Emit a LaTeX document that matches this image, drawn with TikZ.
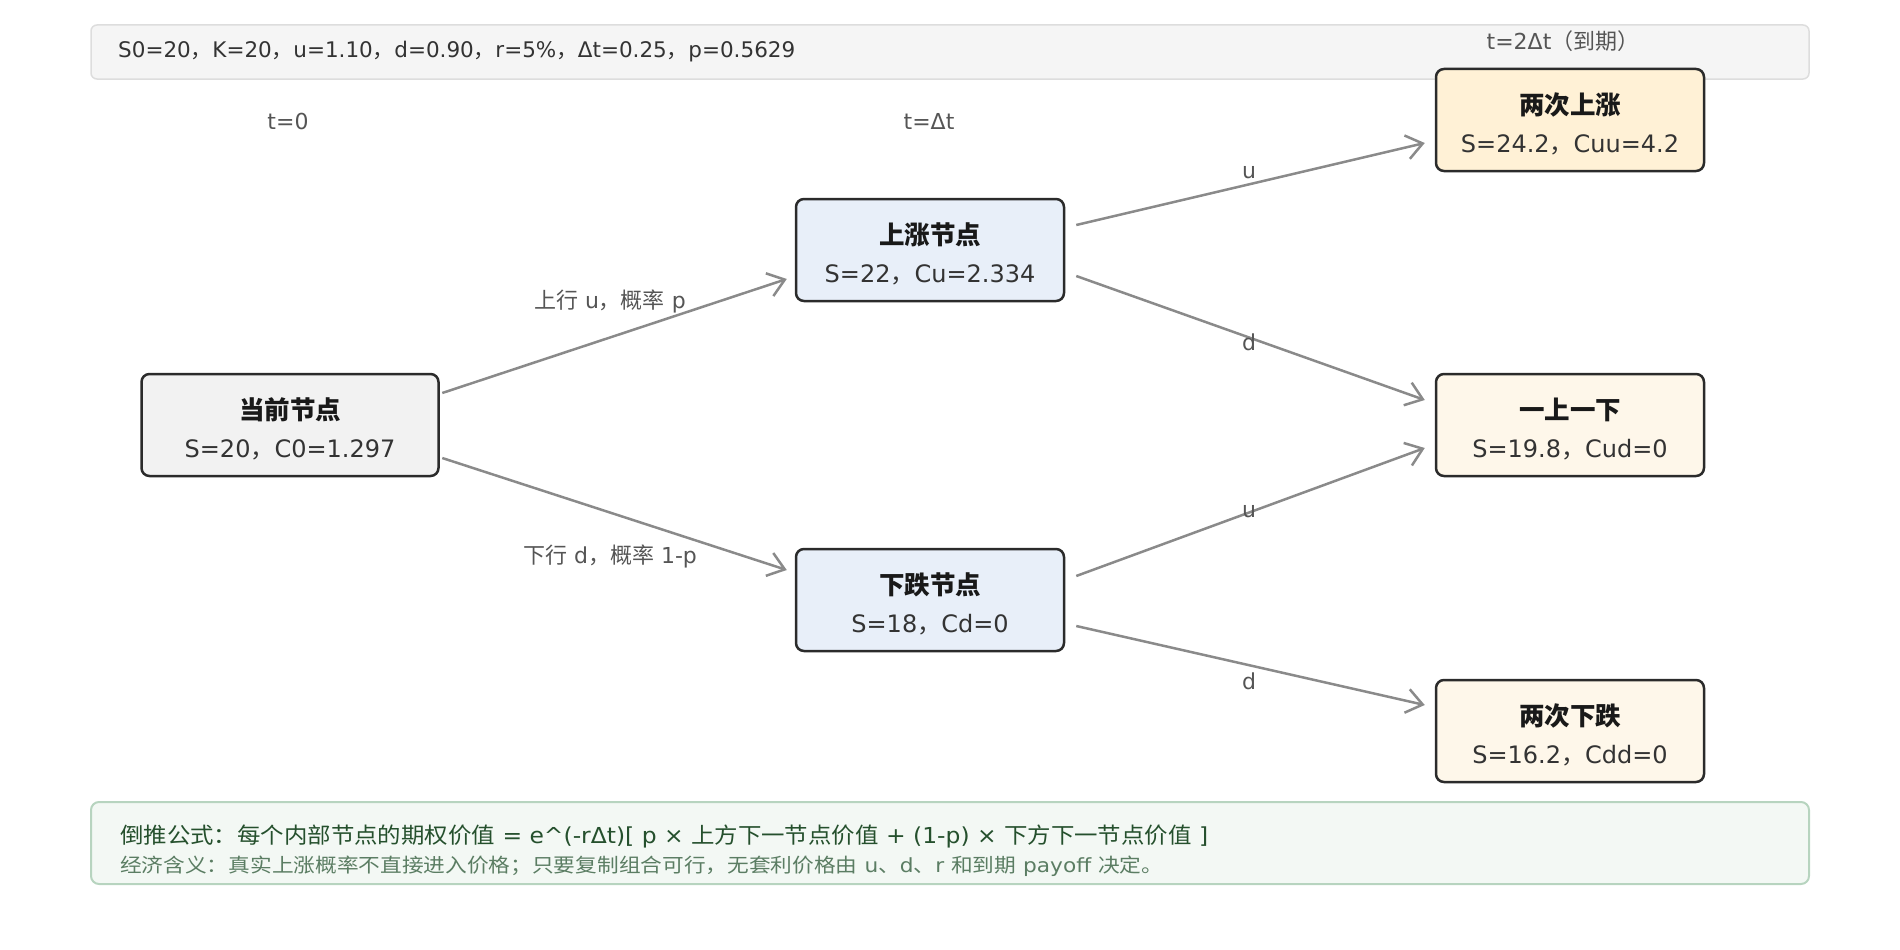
\documentclass[tikz,border=0pt]{standalone}
\usepackage{fontspec}
\usepackage{graphicx}
\setmainfont{Noto Sans CJK SC}
\newfontfamily\lat{DejaVu Sans}
\newcommand{\La}[1]{{\lat #1}}
\usetikzlibrary{arrows.meta}
\definecolor{nodeborder}{HTML}{2B2B2B}
\definecolor{rootfill}{HTML}{F2F2F2}
\definecolor{midfill}{HTML}{E8EFF9}
\definecolor{uufill}{HTML}{FFF1D6}
\definecolor{endfill}{HTML}{FEF7EA}
\definecolor{arrgray}{HTML}{8A8A8A}
\definecolor{txtdark}{HTML}{333333}
\definecolor{lblgray}{HTML}{555555}
\definecolor{hdrfill}{HTML}{F5F5F5}
\definecolor{hdrdraw}{HTML}{DDDDDD}
\definecolor{ftfill}{HTML}{F3F8F4}
\definecolor{ftdraw}{HTML}{B7D4BF}
\definecolor{ftdark}{HTML}{25502D}
\definecolor{ftlight}{HTML}{5B7D63}
\tikzset{
  treenode/.style={draw=nodeborder, line width=2.5pt, rounded corners=8pt,
    minimum width=268pt, minimum height=102pt, align=center, inner sep=0pt,
    text=txtdark, font=\fontsize{24}{38}\selectfont},
  arr/.style={draw=arrgray, line width=2.5pt,
    -{Straight Barb[length=16pt,width=24pt,line width=2.5pt]}},
  edgelbl/.style={text=lblgray, font=\fontsize{22}{26}\selectfont, inner sep=0pt},
  timelbl/.style={text=lblgray, font=\fontsize{22}{26}\selectfont, inner sep=0pt},
}
\newcommand{\ttl}[1]{{\fontsize{25.5}{38}\selectfont\bfseries\color{black!90}\rule{0pt}{30pt}#1}}
\begin{document}
\begin{tikzpicture}[x=1pt,y=-1pt]
\useasboundingbox (0,0) rectangle (1900,950);
% header
\path[fill=hdrfill, draw=hdrdraw, line width=1.5pt, rounded corners=6pt] (91,25) rectangle (1809,79);
\node[anchor=west, inner sep=0pt, text=txtdark, font=\fontsize{21.5}{24}\selectfont] (params) at (118,52)
  {\La{S0=20}，\La{K=20}，\La{u=1.10}，\La{d=0.90}，\La{r=5\%}，\La{Δt=0.25}，\La{p=0.5629}};
\node[timelbl] (t0) at (288,121) {\La{t=0}};
\node[timelbl] (t1) at (929,121) {\La{t=Δt}};
\node[timelbl] (t2) at (1563,41) {\La{t=2Δt}（到期）};
% nodes
\node[treenode, fill=rootfill, minimum width=297pt] (root) at (290,425) {\ttl{当前节点}\\\La{S=20}，\La{C0=1.297}};
\node[treenode, fill=midfill] (up) at (930,250) {\ttl{上涨节点}\\\La{S=22}，\La{Cu=2.334}};
\node[treenode, fill=midfill] (down) at (930,600) {\ttl{下跌节点}\\\La{S=18}，\La{Cd=0}};
\node[treenode, fill=uufill] (uu) at (1570,120) {\ttl{两次上涨}\\\La{S=24.2}，\La{Cuu=4.2}};
\node[treenode, fill=endfill] (ud) at (1570,425) {\ttl{一上一下}\\\La{S=19.8}，\La{Cud=0}};
\node[treenode, fill=endfill] (dd) at (1570,731) {\ttl{两次下跌}\\\La{S=16.2}，\La{Cdd=0}};
% connectors
\draw[arr] ([xshift=2.5pt,yshift=32pt]root.east) -- ([xshift=-8pt,yshift=-29pt]up.west);
\draw[arr] ([xshift=2.5pt,yshift=-33pt]root.east) -- ([xshift=-8pt,yshift=30pt]down.west);
\draw[arr] ([xshift=11pt,yshift=25pt]up.east) -- ([xshift=-10pt,yshift=-23pt]uu.west);
\draw[arr] ([xshift=11pt,yshift=-26pt]up.east) -- ([xshift=-10pt,yshift=25pt]ud.west);
\draw[arr] ([xshift=11pt,yshift=24pt]down.east) -- ([xshift=-10pt,yshift=-23pt]ud.west);
\draw[arr] ([xshift=11pt,yshift=-26pt]down.east) -- ([xshift=-10pt,yshift=26pt]dd.west);
% edge labels
\node[edgelbl] (lup) at (610,301) {上行\La{ u}，概率\La{ p}};
\node[edgelbl] (ldown) at (610,556) {下行\La{ d}，概率\La{ 1-p}};
\node[edgelbl] (luu) at (1249,172) {\La{u}};
\node[edgelbl] (lud) at (1249,342) {\La{d}};
\node[edgelbl] (ldu) at (1249,511) {\La{u}};
\node[edgelbl] (ldd) at (1249,681) {\La{d}};
% footer
\path[fill=ftfill, draw=ftdraw, line width=2pt, rounded corners=8pt] (91,802) rectangle (1809,884);
\node[anchor=west, inner sep=0pt, text=ftdark, font=\fontsize{22}{24}\selectfont] (f1) at (120,836)
  {\resizebox{1088pt}{\height}{倒推公式：每个内部节点的期权价值\La{ = e\textasciicircum(-rΔt)[ p × }上方下一节点价值\La{ + (1-p) × }下方下一节点价值\La{ ]}}};
\node[anchor=west, inner sep=0pt, text=ftlight, font=\fontsize{19.5}{22}\selectfont] (f2) at (120,866)
  {\resizebox{1043pt}{\height}{经济含义：真实上涨概率不直接进入价格；只要复制组合可行，无套利价格由\La{ u}、\La{d}、\La{r }和到期\La{ payoff }决定。}};
\end{tikzpicture}
\end{document}
